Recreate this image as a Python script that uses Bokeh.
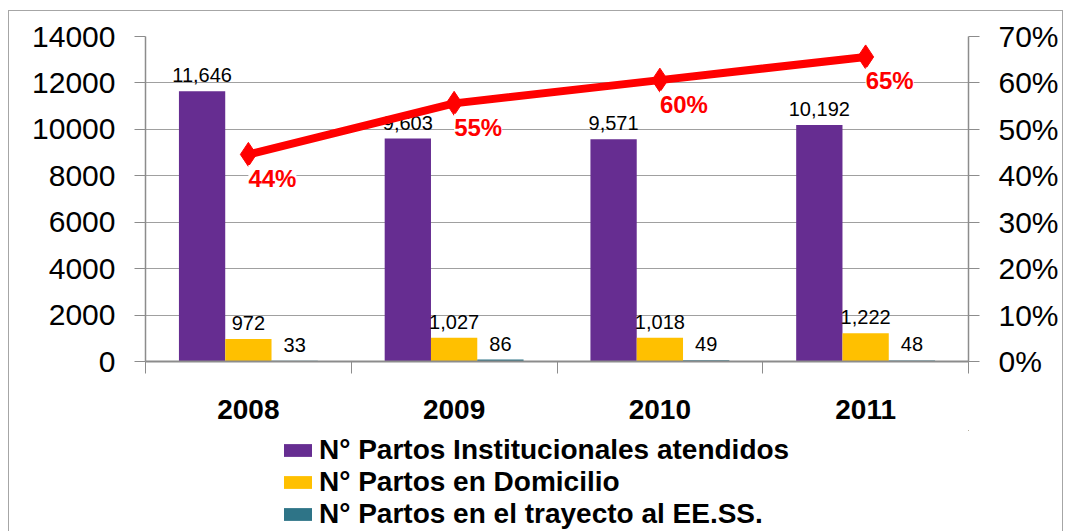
from bokeh.plotting import figure
from bokeh.layouts import column
from bokeh.models import (Range1d, LinearAxis, FixedTicker, NumeralTickFormatter,
                          ColumnDataSource, Legend, LegendItem, Grid)
from bokeh.transform import dodge
from bokeh.core.properties import value
from bokeh.embed import file_html
from bokeh.resources import INLINE

# ---------------- data ----------------
years = ["2008", "2009", "2010", "2011"]
institucionales = [11646, 9603, 9571, 10192]
domicilio = [972, 1027, 1018, 1222]
trayecto = [33, 86, 49, 48]
porcentaje = [0.446, 0.556, 0.606, 0.656]
porcentaje_labels = ["44%", "55%", "60%", "65%"]
series_names = ["N° Partos Institucionales atendidos",
                "N° Partos en Domicilio",
                "N° Partos en el trayecto al EE.SS."]
left_ticks = [0, 2000, 4000, 6000, 8000, 10000, 12000, 14000]
right_ticks = [0, 0.1, 0.2, 0.3, 0.4, 0.5, 0.6, 0.7]

# ---------------- style ----------------
colors = ["#662D91", "#FFC000", "#2E7487"]
red = "#FF0000"
gray = "#8C8C8C"
FONT = "Liberation Sans"

n = len(years)
centers = [i + 0.5 for i in range(n)]   # category slot centres on a 0..n axis

src = ColumnDataSource(dict(
    xc=centers,
    inst=institucionales, dom=domicilio, tray=trayecto,
    inst_l=[f"{v:,}" for v in institucionales],
    dom_l=[f"{v:,}" for v in domicilio],
    tray_l=[f"{v:,}" for v in trayecto],
    pct=porcentaje, pct_l=porcentaje_labels,
))

W = 1053
p = figure(x_range=Range1d(0, n), y_range=Range1d(0, 14000),
           width=W, height=419, output_backend="svg", toolbar_location=None,
           x_axis_location=None, y_axis_location=None,
           min_border_left=136, min_border_right=94, min_border_top=25, min_border_bottom=69)
p.outline_line_color = None
p.extra_y_ranges = {"pct": Range1d(0, 0.7)}
p.center = [r for r in p.center if not isinstance(r, Grid)]

# axes
left_ticker = FixedTicker(ticks=left_ticks)
yl = LinearAxis(ticker=left_ticker, formatter=NumeralTickFormatter(format="0"))
yr = LinearAxis(y_range_name="pct", ticker=FixedTicker(ticks=right_ticks),
                formatter=NumeralTickFormatter(format="0%"))
for ax in (yl, yr):
    ax.axis_line_color = gray
    ax.axis_line_width = 1.5
    ax.major_tick_line_color = gray
    ax.major_tick_out = 11
    ax.major_tick_in = 0
    ax.minor_tick_line_color = None
    ax.major_label_text_font = FONT
    ax.major_label_text_font_size = "30px"
    ax.major_label_text_color = "black"
    ax.major_label_standoff = 19
p.add_layout(yl, "left")
p.add_layout(yr, "right")

bounds = list(range(n + 1))
xb = LinearAxis(ticker=FixedTicker(ticks=bounds),
                major_label_overrides={b: "" for b in bounds})
xb.axis_line_color = gray
xb.axis_line_width = 2
xb.major_tick_line_color = gray
xb.major_tick_out = 12
xb.major_tick_in = 0
xb.minor_tick_line_color = None
xb.major_label_text_font_size = "0px"
xb.major_label_standoff = 0
p.add_layout(xb, "below")

xc = LinearAxis(ticker=FixedTicker(ticks=centers),
                major_label_overrides={c: y for c, y in zip(centers, years)})
xc.axis_line_color = None
xc.major_tick_line_color = None
xc.major_tick_out = 0
xc.major_tick_in = 0
xc.minor_tick_line_color = None
xc.major_label_text_font = FONT
xc.major_label_text_font_size = "28px"
xc.major_label_text_font_style = "bold"
xc.major_label_text_color = "black"
xc.major_label_standoff = 26
p.add_layout(xc, "below")

p.add_layout(Grid(dimension=1, ticker=left_ticker, grid_line_color="#A0A0A0", grid_line_width=1))

# bars
w = 0.225
bar_fields = ["inst", "dom", "tray"]
offsets = [-w, 0, w]
bar_renderers = []
for field, off, col in zip(bar_fields, offsets, colors):
    r = p.vbar(x=dodge("xc", off), top=field, width=w, source=src,
               fill_color=col, line_color=None)
    bar_renderers.append(r)
    p.text(x=dodge("xc", off), y=field, text=field + "_l", source=src,
           text_align="center", text_baseline="bottom", y_offset=-9,
           text_font=value(FONT), text_font_size="20px", text_color="black")

# line
p.line(x="xc", y="pct", y_range_name="pct", source=src, line_color=red, line_width=8)
p.scatter(x="xc", y="pct", y_range_name="pct", source=src, marker="diamond", size=24,
          fill_color=red, line_color=red)
p.text(x="xc", y="pct", y_range_name="pct", text="pct_l", source=src,
       text_align="left", text_baseline="middle", x_offset=0, y_offset=24,
       text_font=value(FONT), text_font_size="24px", text_font_style="bold",
       text_color=red, background_fill_color="white")

# legend strip (separate figure under the chart, same box); the series are
# re-plotted there only to provide legend swatches, outside its visible ranges
lp = figure(x_range=Range1d(-3, -2), y_range=Range1d(-3, -2), width=W, height=101,
            output_backend="svg", toolbar_location=None,
            x_axis_location=None, y_axis_location=None, min_border=0)
lp.outline_line_color = None
lp.center = [r for r in lp.center if not isinstance(r, Grid)]
swatches = [lp.vbar(x="xc", top=field, width=w, source=src, fill_color=col, line_color=None)
            for field, col in zip(bar_fields, colors)]

legend = Legend(items=[LegendItem(label=nm, renderers=[sw]) for nm, sw in zip(series_names, swatches)],
                location=(135, 1), orientation="vertical")
legend.label_text_font = FONT
legend.label_text_font_size = "28px"
legend.label_text_font_style = "bold"
legend.label_text_color = "black"
legend.glyph_width = 35
legend.glyph_height = 16
legend.label_standoff = 4
legend.spacing = 0
legend.padding = 0
legend.margin = 0
legend.border_line_color = None
legend.background_fill_alpha = 0
lp.add_layout(legend, "center")

layout = column(p, lp, spacing=0)
layout.styles = {"margin-left": "8px", "margin-top": "10px",
                 "border-top": "1px solid #A6A6A6",
                 "border-left": "1px solid #A6A6A6",
                 "border-right": "1px solid #A6A6A6"}

open("out.html", "w").write(file_html(layout, INLINE))
